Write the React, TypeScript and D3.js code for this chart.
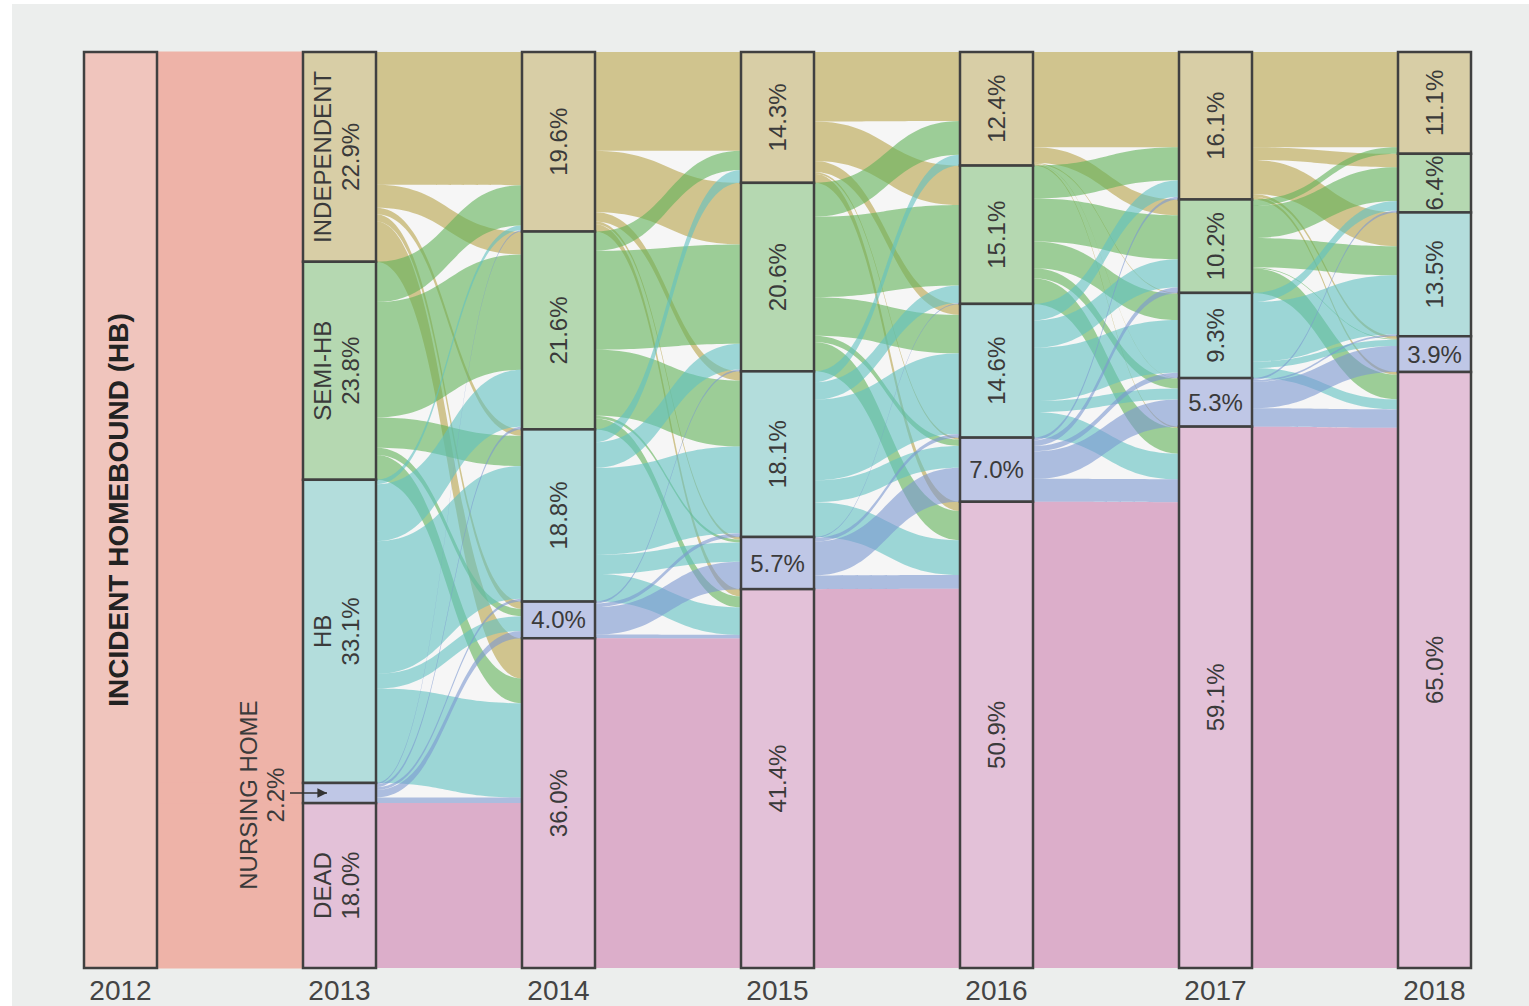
import React, { useEffect, useRef } from "react";
import * as d3 from "d3";

const years = ["2012", "2013", "2014", "2015", "2016", "2017", "2018"];
const states = ["INDEPENDENT", "SEMI-HB", "HB", "NURSING HOME", "DEAD"];
const baselineLabel = "INCIDENT HOMEBOUND (HB)";

// share of the cohort (%) in each state, per year. 2012 = everyone incident HB
const share2013 = [22.9, 23.8, 33.1, 2.2, 18.0];
const share2014 = [19.6, 21.6, 18.8, 4.0, 36.0];
const share2015 = [14.3, 20.6, 18.1, 5.7, 41.4];
const share2016 = [12.4, 15.1, 14.6, 7.0, 50.9];
const share2017 = [16.1, 10.2, 9.3, 5.3, 59.1];
const share2018 = [11.1, 6.4, 13.5, 3.9, 65.0];

// 2012 HB -> 2013 states
const flow2012 = [[22.9, 23.8, 33.1, 2.2, 18.0]];

// transitions (% of cohort), rows = from state, cols = to state
const flow2013 = [
  [14.5, 2.5, 0.7, 0.8, 4.4],
  [4.4, 12.6, 3.3, 0.8, 2.7],
  [0.5, 6.2, 14.5, 1.6, 10.3],
  [0.15, 0.3, 0.3, 0.8, 0.6],
  [0, 0, 0, 0, 18.0],
];
const flow2014 = [
  [10.8, 6.7, 1.0, 0.3, 0.8],
  [2.1, 10.8, 7.2, 0.3, 1.2],
  [1.4, 2.8, 9.5, 2.1, 3.0],
  [0, 0.2, 0.4, 3.0, 0.4],
  [0, 0, 0, 0, 36.0],
];
const flow2015 = [
  [7.6, 4.3, 1.2, 0.2, 1.0],
  [3.7, 8.8, 4.2, 0.7, 3.2],
  [1.2, 1.9, 8.8, 2.4, 3.8],
  [0, 0.1, 0.4, 3.7, 1.5],
  [0, 0, 0, 0, 41.4],
];
const flow2016 = [
  [10.4, 1.7, 0.1, 0.05, 0.15],
  [3.6, 4.7, 2.9, 1.1, 2.8],
  [1.8, 3.0, 5.8, 1.2, 2.8],
  [0.3, 0.6, 0.6, 3.0, 2.5],
  [0, 0, 0, 0, 50.9],
];
const flow2017 = [
  [10.4, 1.4, 3.7, 0.3, 0.3],
  [0.7, 3.5, 3.2, 0.1, 2.7],
  [0, 1.0, 6.5, 0.7, 1.1],
  [0, 0.2, 0.2, 2.9, 2.0],
  [0, 0, 0, 0, 59.1],
];

const nodeColors = ["#d8cea6", "#b5d8b1", "#b3dddc", "#bfc7e6", "#e3c1d8"];
const flowColors = ["rgb(184,163,74)", "rgb(97,179,89)", "rgb(97,193,193)", "rgb(123,151,209)", "rgb(203,126,174)"];

const App = () => {
  const svgRef = useRef(null);
  const width = 1529;
  const height = 1006;

  useEffect(() => {
    const svg = d3.select(svgRef.current);
    svg.selectAll("*").remove();

    const top = 52;
    const bottom = 968;
    const nodeW = 73;
    const font = "'Liberation Sans', Arial, sans-serif";
    const shares = [share2013, share2014, share2015, share2016, share2017, share2018];
    const flows = [flow2013, flow2014, flow2015, flow2016, flow2017];

    const xScale = d3.scaleLinear().domain([0, years.length - 1]).range([84, 1398]);

    const baseNode = { state: 2, x: xScale(0), y0: top, y1: bottom };
    const columns = shares.map((share, i) => {
      const yScale = d3.scaleLinear().domain([0, d3.sum(share)]).range([top, bottom]);
      const cum = [0, ...d3.cumsum(share)];
      return share.map((v, s) => ({
        state: s,
        value: v,
        col: i + 1,
        x: xScale(i + 1),
        y0: yScale(cum[s]),
        y1: yScale(cum[s + 1]),
      }));
    });

    const area = d3
      .area()
      .curve(d3.curveBumpX)
      .x((d) => d.x)
      .y0((d) => d.y0)
      .y1((d) => d.y1);

    const ribbons = (matrix, srcNodes, tgtNodes) => {
      const out = [];
      const tgtPos = tgtNodes.map((n) => n.y0);
      const colSum = tgtNodes.map((_, t) => d3.sum(matrix, (row) => row[t]));
      matrix.forEach((row, s) => {
        const src = srcNodes[s];
        const rowSum = d3.sum(row);
        let sy = src.y0;
        row.forEach((v, t) => {
          const tgt = tgtNodes[t];
          const sw = (v / rowSum) * (src.y1 - src.y0);
          const tw = colSum[t] ? (v / colSum[t]) * (tgt.y1 - tgt.y0) : 0;
          if (v > 0) {
            out.push({
              s: src.state,
              t,
              pts: [
                { x: src.x + nodeW, y0: sy, y1: sy + sw },
                { x: tgt.x, y0: tgtPos[t], y1: tgtPos[t] + tw },
              ],
            });
          }
          sy += sw;
          tgtPos[t] += tw;
        });
      });
      return out;
    };

    // backgrounds
    svg.append("rect").attr("x", 12).attr("y", 4).attr("width", width - 12).attr("height", height - 4).attr("fill", "#eceeed");
    svg
      .append("rect")
      .attr("x", xScale(0))
      .attr("y", top)
      .attr("width", xScale(6) + nodeW - xScale(0))
      .attr("height", bottom - top)
      .attr("fill", "#f6f6f6");

    // 2012 -> 2013 (all one colour, stroked so the ribbons join without seams)
    svg
      .append("g")
      .selectAll("path")
      .data(ribbons(flow2012, [baseNode], columns[0]))
      .join("path")
      .attr("d", (d) => area(d.pts))
      .attr("fill", "#eeb3a8")
      .attr("stroke", "#eeb3a8")
      .attr("stroke-width", 1.2);

    // later transitions
    flows.forEach((m, i) => {
      svg
        .append("g")
        .selectAll("path")
        .data(ribbons(m, columns[i], columns[i + 1]))
        .join("path")
        .attr("d", (d) => area(d.pts))
        .attr("fill", (d) => flowColors[d.s])
        .attr("fill-opacity", 0.6);
    });

    // nodes
    svg
      .append("rect")
      .attr("x", baseNode.x)
      .attr("y", top)
      .attr("width", nodeW)
      .attr("height", bottom - top)
      .attr("fill", "#f0c5bd")
      .attr("stroke", "#404040")
      .attr("stroke-width", 2.5);

    const allNodes = columns.flat();
    svg
      .append("g")
      .selectAll("rect")
      .data(allNodes)
      .join("rect")
      .attr("x", (d) => d.x)
      .attr("y", (d) => d.y0)
      .attr("width", nodeW)
      .attr("height", (d) => d.y1 - d.y0)
      .attr("fill", (d) => nodeColors[d.state])
      .attr("stroke", "#404040")
      .attr("stroke-width", 2.5);

    // node labels
    const labels = svg.append("g").attr("font-family", font).attr("font-size", 24).attr("fill", "#3a3a3a");
    allNodes.forEach((d) => {
      const cx = d.x + nodeW / 2;
      const cy = (d.y0 + d.y1) / 2;
      const pct = d.value.toFixed(1) + "%";
      if (d.col === 1) {
        if (d.state === 3) return;
        [states[d.state], pct].forEach((txt, k) => {
          labels
            .append("text")
            .attr("transform", `translate(${cx + (k === 0 ? -17 : 11)},${cy}) rotate(-90)`)
            .attr("text-anchor", "middle")
            .attr("dominant-baseline", "central")
            .text(txt);
        });
      } else if (d.state === 3) {
        labels
          .append("text")
          .attr("x", cx)
          .attr("y", cy)
          .attr("text-anchor", "middle")
          .attr("dominant-baseline", "central")
          .text(pct);
      } else {
        labels
          .append("text")
          .attr("transform", `translate(${cx},${cy}) rotate(-90)`)
          .attr("text-anchor", "middle")
          .attr("dominant-baseline", "central")
          .text(pct);
      }
    });

    // baseline title
    svg
      .append("text")
      .attr("transform", `translate(${baseNode.x + nodeW / 2 - 2},${(top + bottom) / 2}) rotate(-90)`)
      .attr("text-anchor", "middle")
      .attr("dominant-baseline", "central")
      .attr("font-family", font)
      .attr("font-weight", "bold")
      .attr("font-size", 28)
      .attr("fill", "#222")
      .text(baselineLabel);

    // nursing home 2013 callout
    const nh = columns[0][3];
    const nhY = (nh.y0 + nh.y1) / 2;
    [states[3], nh.value.toFixed(1) + "%"].forEach((txt, k) => {
      labels
        .append("text")
        .attr("transform", `translate(${nh.x - (k === 0 ? 55 : 28)},${nhY + 2}) rotate(-90)`)
        .attr("text-anchor", "middle")
        .attr("dominant-baseline", "central")
        .text(txt);
    });
    svg
      .append("defs")
      .append("marker")
      .attr("id", "arrowhead")
      .attr("viewBox", "0 0 10 10")
      .attr("refX", 10)
      .attr("refY", 5)
      .attr("markerWidth", 6)
      .attr("markerHeight", 6)
      .attr("orient", "auto")
      .append("path")
      .attr("d", "M0,0L10,5L0,10Z")
      .attr("fill", "#333");
    svg
      .append("line")
      .attr("x1", nh.x - 13)
      .attr("x2", nh.x + 24)
      .attr("y1", nhY)
      .attr("y2", nhY)
      .attr("stroke", "#333")
      .attr("stroke-width", 1.6)
      .attr("marker-end", "url(#arrowhead)");

    // year labels
    svg
      .append("g")
      .selectAll("text")
      .data(years)
      .join("text")
      .attr("x", (d, i) => xScale(i) + nodeW / 2)
      .attr("y", 1000)
      .attr("text-anchor", "middle")
      .attr("font-family", font)
      .attr("font-size", 28)
      .attr("fill", "#444")
      .text((d) => d);
  }, []);

  return (
    <svg
      ref={svgRef}
      width={width}
      height={height}
      style={{ position: "absolute", left: 0, top: 0, display: "block", background: "#fff" }}
    ></svg>
  );
};

export default App;
